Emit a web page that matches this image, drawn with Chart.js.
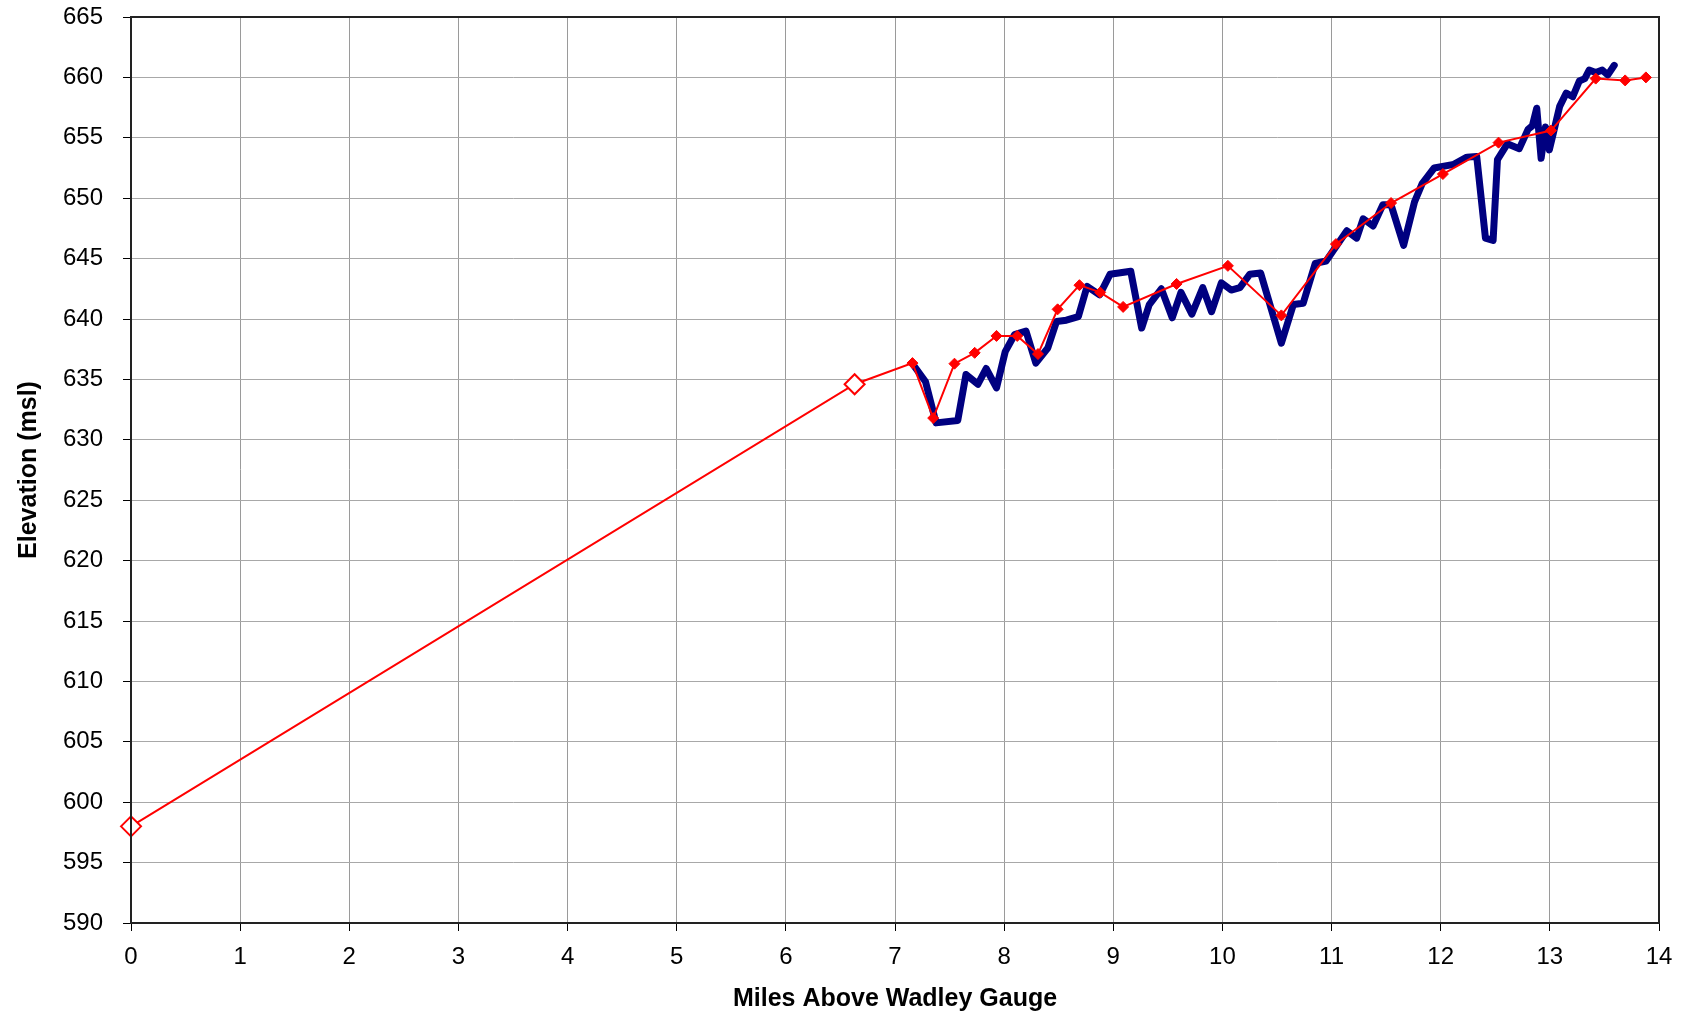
<!DOCTYPE html>
<html>
<head>
<meta charset="utf-8">
<title>Elevation Profile</title>
<script src="https://cdn.jsdelivr.net/npm/chart.js@4.4.1/dist/chart.umd.min.js"></script>
<style>
    html, body { margin: 0; padding: 0; background: #fff; }
    #wrap { width: 1692px; height: 1017px; }
</style>
</head>
<body>
<div id="wrap"><canvas id="profileChart" width="1692" height="1017"></canvas></div>
<script>
// ============================================
// PROFILE DATA
// ============================================

// Surveyed points (red). The first two are the gauge / reference points.
const surveyMiles = [0, 6.63, 7.16, 7.35, 7.545, 7.73, 7.93, 8.12, 8.31, 8.49, 8.69, 8.88,
    9.09, 9.58, 10.05, 10.54, 11.04, 11.545, 12.02, 12.53, 13.01, 13.42, 13.69, 13.88];
const surveyElev = [598.0, 634.6, 636.35, 631.8, 636.3, 637.2, 638.6, 638.6, 637.1, 640.8, 642.8, 642.2,
    641.0, 642.9, 644.4, 640.3, 646.2, 649.6, 652.0, 654.6, 655.6, 659.9, 659.75, 660.0];
const referenceCount = 2; // leading points drawn as open diamonds

// Continuous profile (navy)
const profileMiles = [7.16, 7.28, 7.376, 7.575, 7.65, 7.76, 7.835, 7.93, 8.01, 8.095, 8.20, 8.29,
    8.40, 8.48, 8.57, 8.68, 8.76, 8.875, 8.97, 9.16, 9.26, 9.33, 9.44, 9.54, 9.62, 9.72, 9.82,
    9.90, 9.99, 10.08, 10.16, 10.25, 10.35, 10.54, 10.65, 10.74, 10.85, 10.95, 11.14, 11.23,
    11.29, 11.38, 11.47, 11.545, 11.66, 11.76, 11.83, 11.94, 12.12, 12.24, 12.33, 12.41, 12.48,
    12.52, 12.61, 12.72, 12.80, 12.84, 12.88, 12.92, 12.96, 12.995, 13.04, 13.09, 13.15, 13.21,
    13.27, 13.32, 13.36, 13.42, 13.48, 13.53, 13.59];
const profileElev = [636.3, 634.8, 631.4, 631.6, 635.4, 634.6, 635.9, 634.3, 637.3, 638.7, 639.0, 636.35,
    637.6, 639.8, 639.9, 640.2, 642.7, 642.0, 643.7, 643.95, 639.25, 641.2, 642.5, 640.1, 642.2, 640.4, 642.6,
    640.6, 643.0, 642.4, 642.6, 643.7, 643.8, 638.0, 641.2, 641.3, 644.6, 644.8, 647.3, 646.7,
    648.3, 647.7, 649.45, 649.45, 646.1, 649.7, 651.2, 652.5, 652.8, 653.4, 653.45, 646.7, 646.5,
    653.2, 654.5, 654.1, 655.7, 656.0, 657.45, 653.3, 655.9, 654.0, 655.7, 657.6, 658.7, 658.4,
    659.7, 659.9, 660.6, 660.4, 660.6, 660.2, 661.0];

// Axis ranges
const milesRange = [0, 14];
const elevRange = [590, 665];

const xTitle = 'Miles Above Wadley Gauge';
const yTitle = 'Elevation (msl)';

// ============================================
// CHART
// ============================================

const toPoints = (xs, ys) => xs.map((x, i) => ({ x: x, y: ys[i] }));

// Dark frame around the plot area (top and right edges too)
const framePlugin = {
    id: 'plotFrame',
    afterDraw(chart) {
        const a = chart.chartArea;
        const ctx = chart.ctx;
        ctx.save();
        ctx.strokeStyle = '#222';
        ctx.lineWidth = 2;
        ctx.strokeRect(a.left, a.top, a.right - a.left, a.bottom - a.top);
        ctx.restore();
    }
};

const tickFont = { family: 'Liberation Sans, Arial, sans-serif', size: 24 };
const titleFont = { family: 'Liberation Sans, Arial, sans-serif', size: 25, weight: 'bold' };

new Chart(document.getElementById('profileChart'), {
    type: 'line',
    data: {
        datasets: [
            {
                data: toPoints(surveyMiles, surveyElev),
                borderColor: '#ff0000',
                borderWidth: 2,
                pointStyle: 'rectRot',
                pointRadius: surveyMiles.map((_, i) => i < referenceCount ? 10 : 5.5),
                pointBorderWidth: surveyMiles.map((_, i) => i < referenceCount ? 2 : 1),
                pointBackgroundColor: surveyMiles.map((_, i) => i < referenceCount ? '#ffffff' : '#ff0000'),
                pointBorderColor: '#ff0000',
                tension: 0,
                clip: false
            },
            {
                data: toPoints(profileMiles, profileElev),
                borderColor: '#000080',
                borderWidth: 7,
                borderJoinStyle: 'round',
                borderCapStyle: 'round',
                pointRadius: 0,
                tension: 0
            }
        ]
    },
    options: {
        responsive: false,
        animation: false,
        layout: { padding: { top: 17, right: 33, left: 0, bottom: 0 } },
        plugins: {
            legend: { display: false },
            tooltip: { enabled: false }
        },
        scales: {
            x: {
                type: 'linear',
                min: milesRange[0],
                max: milesRange[1],
                afterFit(scale) {
                    scale.height = 94;
                    scale.paddingLeft = 0;
                    scale.paddingRight = 0;
                },
                ticks: { stepSize: 1, color: '#000', font: tickFont, padding: 12, maxRotation: 0 },
                grid: { color: '#9a9a9a', lineWidth: 1, tickColor: '#000', tickLength: 8 },
                border: { color: '#222', width: 2 },
                title: { display: true, text: xTitle, color: '#000', font: titleFont, padding: { top: 0, bottom: 3 } }
            },
            y: {
                min: elevRange[0],
                max: elevRange[1],
                afterFit(scale) {
                    scale.width = 131;
                    scale.paddingTop = 0;
                    scale.paddingBottom = 0;
                },
                ticks: { stepSize: 5, color: '#000', font: tickFont, padding: 20 },
                grid: { color: '#a8a8a8', lineWidth: 1, tickColor: '#000', tickLength: 8 },
                border: { color: '#222', width: 2 },
                title: { display: true, text: yTitle, color: '#000', font: titleFont, padding: { top: 14, bottom: 0 } }
            }
        }
    },
    plugins: [framePlugin]
});
</script>
</body>
</html>
